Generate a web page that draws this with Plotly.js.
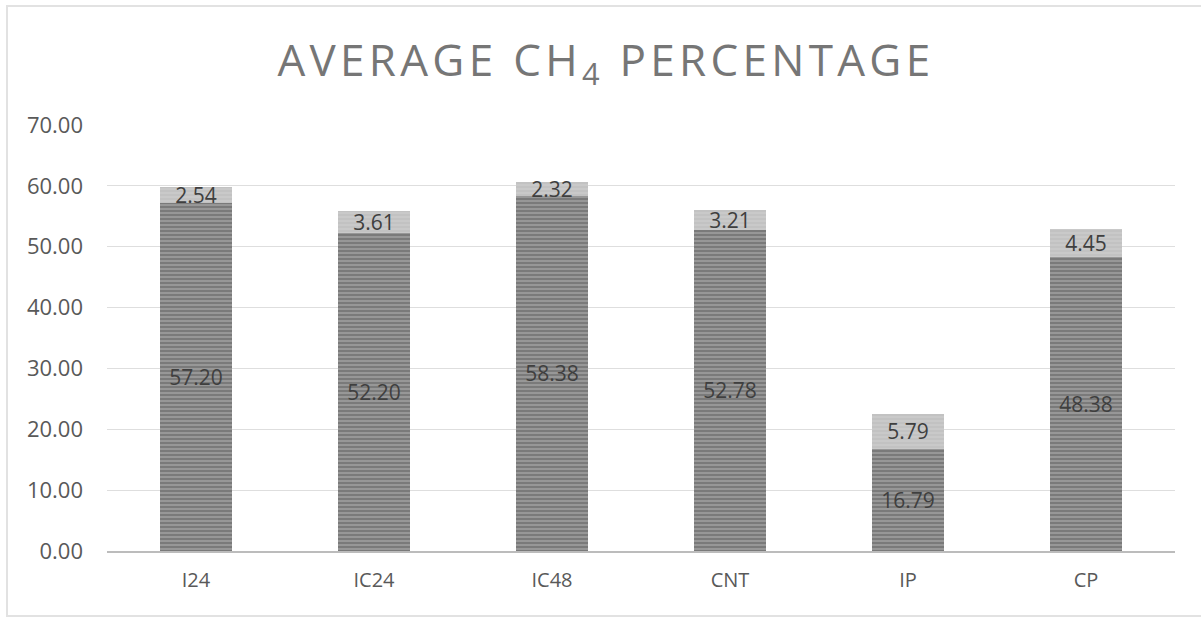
<!DOCTYPE html>
<html>
<head>
<meta charset="utf-8">
<script src="https://cdn.plot.ly/plotly-3.0.1.min.js"></script>
<style>
  html, body { margin: 0; padding: 0; background: #fff; }
  #chart { position: absolute; left: 0; top: 0; width: 1201px; height: 617px; }
  #frame { position: absolute; left: 6px; top: 5px; width: 1200px; height: 608px;
           border-left: 2px solid #e2e2e2; border-top: 2px solid #e2e2e2; border-bottom: 2px solid #e2e2e2;
           pointer-events: none; }
  .gtitle { letter-spacing: 4.3px; }
</style>
</head>
<body>
<div id="chart"></div>
<div id="frame"></div>
<script>
const categories = ["I24", "IC24", "IC48", "CNT", "IP", "CP"];
const meanValues = [57.20, 52.20, 58.38, 52.78, 16.79, 48.38];
const sdValues = [2.54, 3.61, 2.32, 3.21, 5.79, 4.45];
const yTicks = [0, 10, 20, 30, 40, 50, 60, 70];

const fontFam = '"Open Sans", "DejaVu Sans", sans-serif';

const traceMean = {
  type: 'bar',
  x: categories,
  y: meanValues,
  text: meanValues.map(v => v.toFixed(2)),
  textposition: 'inside',
  insidetextanchor: 'middle',
  constraintext: 'none',
  textfont: { family: fontFam, size: 21, color: '#3f3f3f' },
  marker: {
    color: '#8e8e8e',
    pattern: { shape: '-', fgcolor: '#6e6e6e', bgcolor: '#979797', size: 4, solidity: 0.35 },
    line: { width: 0 }
  },
  hoverinfo: 'x+y'
};

const traceSd = {
  type: 'bar',
  x: categories,
  y: sdValues,
  text: sdValues.map(v => v.toFixed(2)),
  textposition: 'inside',
  insidetextanchor: 'middle',
  constraintext: 'none',
  textfont: { family: fontFam, size: 21, color: '#3f3f3f' },
  marker: {
    color: '#c6c6c6',
    pattern: { shape: '-', fgcolor: '#bdbdbd', bgcolor: '#c9c9c9', size: 4, solidity: 0.3 },
    line: { width: 0 }
  },
  hoverinfo: 'x+y'
};

const layout = {
  width: 1201,
  height: 617,
  barmode: 'stack',
  bargap: 0.595,
  showlegend: false,
  paper_bgcolor: '#ffffff',
  plot_bgcolor: '#ffffff',
  margin: { l: 107, r: 26, t: 125, b: 66 },
  title: {
    text: 'AVERAGE CH<sub>4</sub> PERCENTAGE',
    font: { family: fontFam, size: 44, color: '#767676' },
    x: 0.5045, xanchor: 'center',
    y: 0.902, yanchor: 'middle'
  },
  xaxis: {
    type: 'category',
    tickfont: { family: fontFam, size: 20, color: '#595959' },
    showline: true,
    linecolor: '#bcbcbc',
    linewidth: 2,
    ticks: '',
    showgrid: false,
    ticklabelstandoff: 10
  },
  yaxis: {
    range: [0, 70],
    tickvals: yTicks,
    ticktext: yTicks.map(v => v.toFixed(2)),
    tickfont: { family: fontFam, size: 22, color: '#595959' },
    showgrid: true,
    gridcolor: '#dedede',
    gridwidth: 1,
    zeroline: false,
    showline: false,
    ticks: '',
    ticklabelstandoff: 23
  }
};

Plotly.newPlot('chart', [traceMean, traceSd], layout, { displayModeBar: false, staticPlot: true });
</script>
</body>
</html>
